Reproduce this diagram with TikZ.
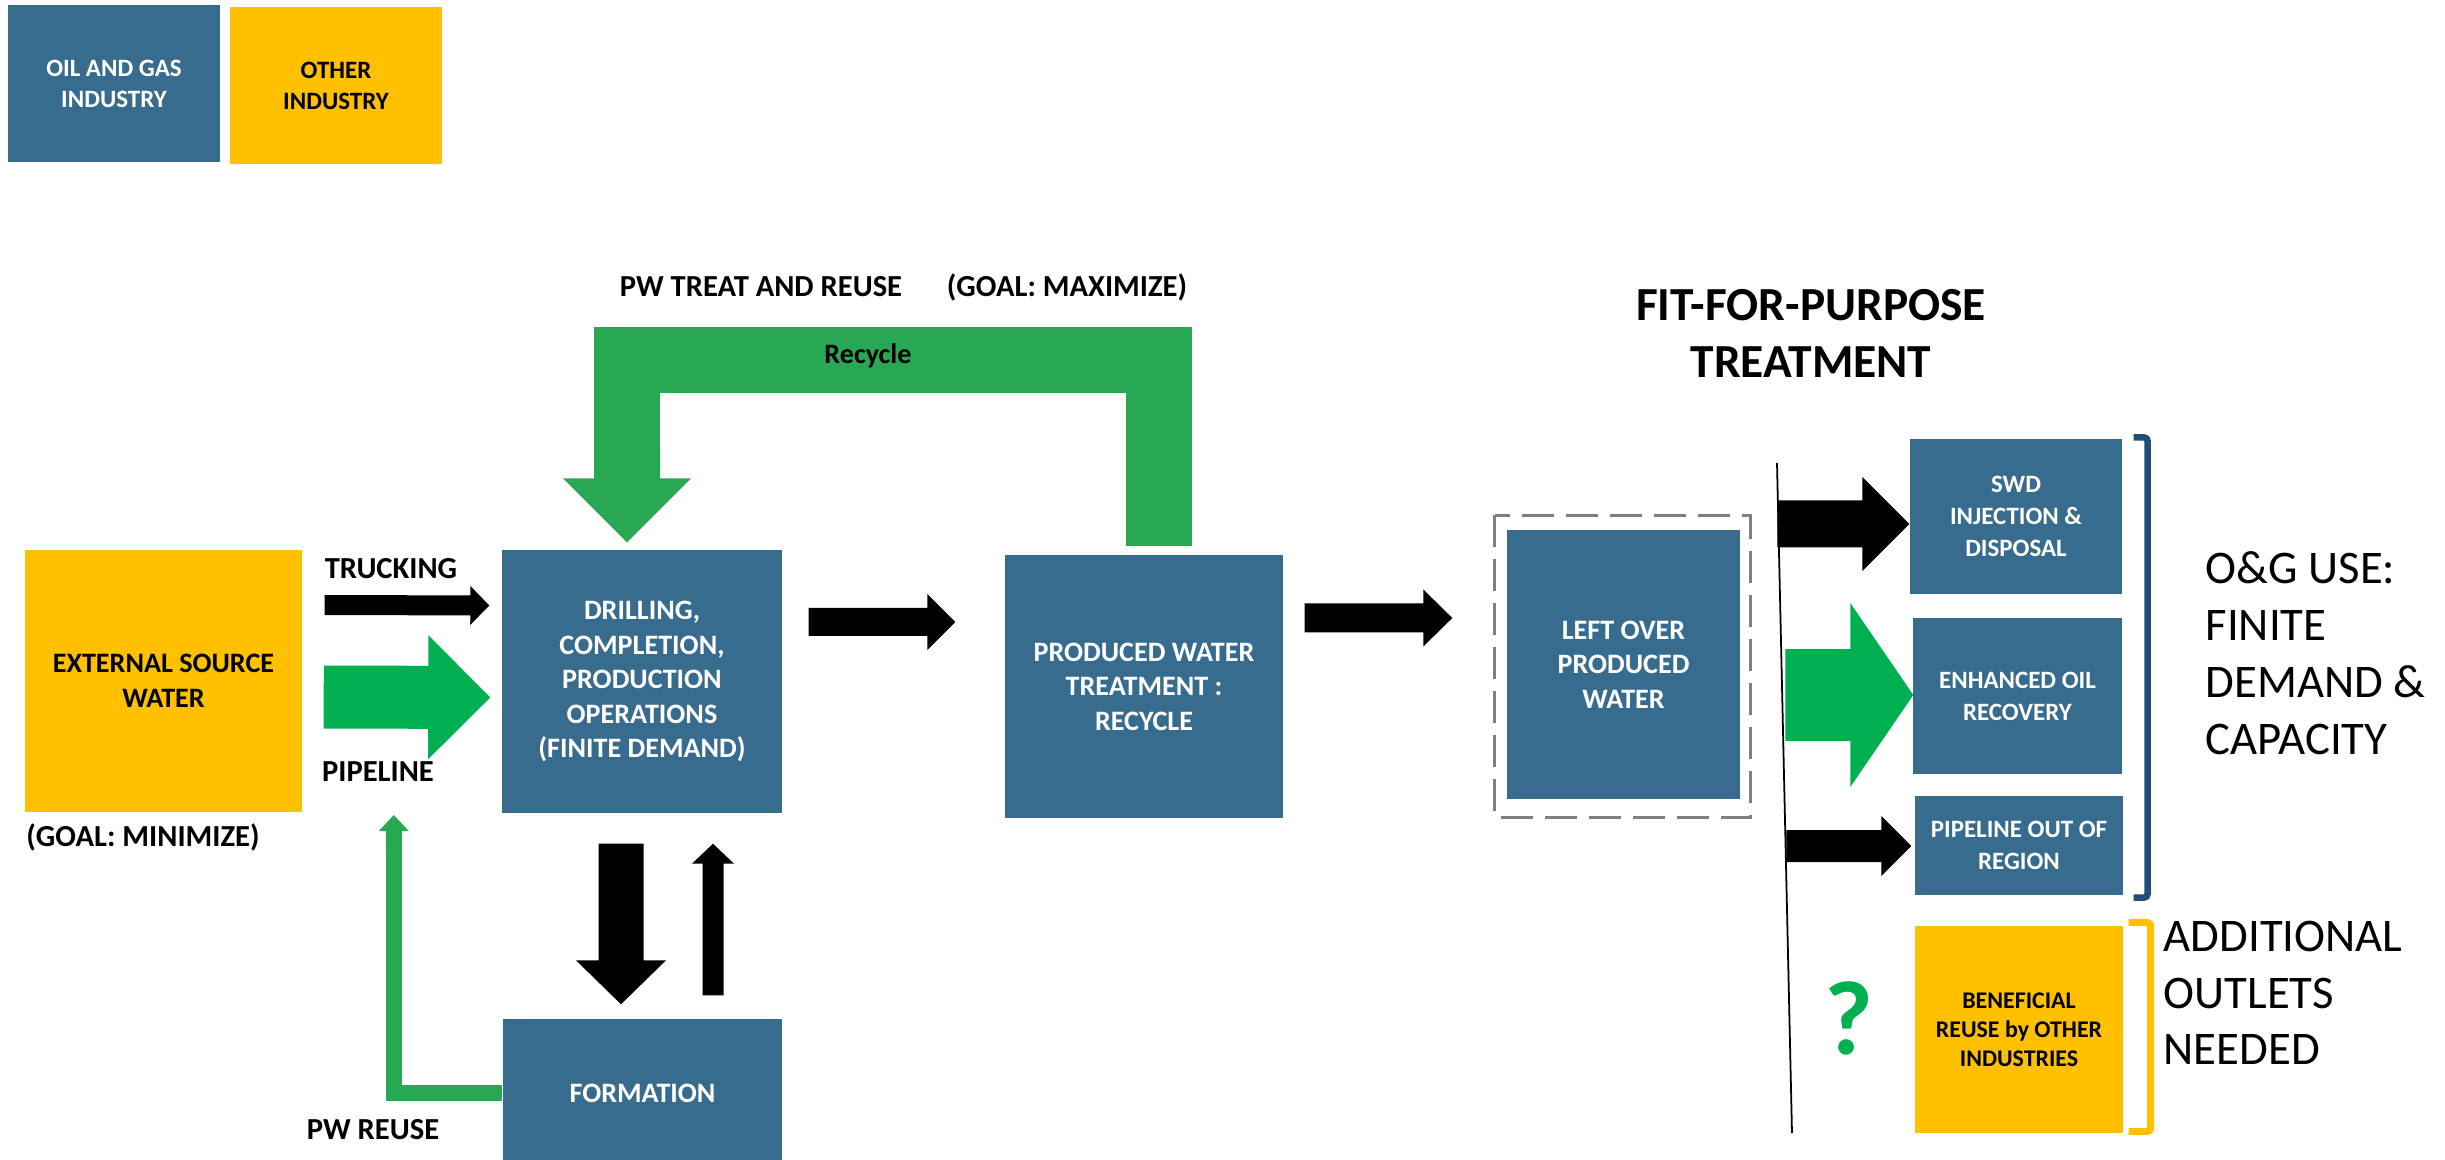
\documentclass[tikz,border=0pt]{standalone}
\usepackage{fontspec}
\setmainfont{Carlito}
\usepackage{tikz}
\usetikzlibrary{calc,positioning}
\definecolor{ogblue}{RGB}{55,108,142}
\definecolor{othyellow}{RGB}{255,192,0}
\definecolor{pipegreen}{RGB}{0,176,80}
\definecolor{loopgreen}{RGB}{40,168,82}
\definecolor{brktblue}{RGB}{31,78,121}
\tikzset{
  og/.style={fill=ogblue, text=white, align=center, inner sep=0pt, font=\bfseries\fontsize{8}{9.8}\selectfont},
  oth/.style={og, fill=othyellow, text=black},
  wh/.style 2 args={minimum width=#1*0.1mm, minimum height=#2*0.1mm},
  smalltxt/.style={font=\bfseries\fontsize{7.1}{9.1}\selectfont},
  lbl/.style={inner sep=0pt, font=\bfseries\fontsize{8.7}{10.5}\selectfont},
  bigtxt/.style={inner sep=0pt, align=left, anchor=west, font=\fontsize{13.3}{16.2}\selectfont},
  dashbox/.style={draw=gray, line width=0.33mm, dash pattern=on 3.2mm off 1.2mm},
  loopline/.style={draw=loopgreen, line join=miter}
}
% block arrow: [colour]{from}{to}{shaft}{head}{head length}
\newcommand{\blockarrow}[6][black]{%
  \fill[#1] let \p1=(#2), \p2=(#3), \n1={atan2(\y2-\y1,\x2-\x1)}, \n2={veclen(\x2-\x1,\y2-\y1)} in
    [shift={(\p1)}, rotate=\n1]
    (0pt,-#4/2) -- (\n2-#6,-#4/2) -- (\n2-#6,-#5/2) -- (\n2+0pt,0pt)
    -- (\n2-#6,#5/2) -- (\n2-#6,#4/2) -- (0pt,#4/2) -- cycle;}

\begin{document}
\begin{tikzpicture}[x=0.1mm, y=-0.1mm]
\useasboundingbox (0,0) rectangle (2445,1160);

% legend
\node[og, wh={212}{157}, font=\bfseries\fontsize{7.1}{8.8}\selectfont] (legog) at (114,83.5) {OIL AND GAS\\INDUSTRY};
\node[oth, wh={212}{157}, font=\bfseries\fontsize{7.1}{8.8}\selectfont] (legoth) at (336,85.5) {OTHER\\INDUSTRY};

% boxes
\node[oth, wh={277}{262}] (ext) at (163.5,681) {EXTERNAL SOURCE\\WATER};
\node[og, wh={280}{263}] (drill) at (642,681.5) {DRILLING,\\COMPLETION,\\PRODUCTION\\OPERATIONS\\(FINITE DEMAND)};
\node[og, wh={278}{263}] (pwt) at (1144,686.5) {PRODUCED WATER\\TREATMENT :\\RECYCLE};
\node[og, wh={279}{148}] (form) at (642.5,1093) {FORMATION};
\node[og, wh={233}{269}] (left) at (1623.5,664.5) {LEFT OVER\\PRODUCED\\WATER};
\draw[dashbox] ($(left.north west)+(-11.5,-14)$) rectangle ($(left.south east)+(10,17.5)$);

\node[og, smalltxt, wh={212}{155}] (swd) at (2016,516.5) {SWD\\INJECTION \&\\DISPOSAL};
\node[og, smalltxt, wh={209}{156}] (eor) at (2017.5,696) {ENHANCED OIL\\RECOVERY};
\node[og, smalltxt, wh={208}{99}] (pipe) at (2019,845.5) {PIPELINE OUT OF\\REGION};
\node[oth, wh={208}{207}, font=\bfseries\fontsize{6.8}{8.3}\selectfont] (benef) at (2019,1029.5) {BENEFICIAL\\REUSE by OTHER\\INDUSTRIES};

% labels
\node[lbl] (truck) at (391,569) {TRUCKING};
\node[lbl] (pipel) at (378,772) {PIPELINE};
\node[lbl] (gmin) at (143,837) {(GOAL: MINIMIZE)};
\node[lbl] (ptr) at (761,287) {PW TREAT AND REUSE};
\node[lbl] (gmax) at (1067,287) {(GOAL: MAXIMIZE)};
\node[lbl] (pwre) at (373,1130) {PW REUSE};
\node[inner sep=0pt, align=center, font=\bfseries\fontsize{13.5}{16.2}\selectfont] (ffp) at (1811,333) {FIT-FOR-PURPOSE\\TREATMENT};
\node[bigtxt] (oguse) at (2205,653) {O\&G USE:\\FINITE\\DEMAND \&\\CAPACITY};
\node[bigtxt, font=\fontsize{13.3}{16.1}\selectfont] (addl) at (2163,993) {ADDITIONAL\\OUTLETS\\NEEDED};
\node[inner sep=0pt, text=pipegreen, font=\bfseries\fontsize{30}{36}\selectfont] (qmark) at (1849,1018) {?};

% flows
\blockarrow{$(ext.east)+(22,-76)$}{$(drill.west)+(-12,-76)$}{2.0mm}{3.9mm}{1.9mm}
\blockarrow[pipegreen]{$(ext.east)+(21,16)$}{$(drill.west)+(-11,16)$}{6.3mm}{12.4mm}{6.2mm}
\blockarrow{$(drill.east)+(26,-59.5)$}{$(pwt.west)+(-49,-64.5)$}{2.8mm}{5.6mm}{2.8mm}
\blockarrow{$(pwt.east)+(21,-68.5)$}{$(left.west)+(-54,-46.5)$}{2.9mm}{5.7mm}{2.9mm}
\blockarrow{$(drill.south)+(-21,30)$}{$(form.north)+(-21.5,-14)$}{4.5mm}{9.0mm}{4.4mm}
\blockarrow{$(form.north)+(70.5,-23)$}{$(drill.south)+(71,30)$}{2.1mm}{4.2mm}{2.0mm}

% recycle loop
\draw[loopline, line width=6.6mm] ($(pwt.north)+(15,-8)$) |- ($(drill.north)+(-15,-189.5)$) -- ++(0,120);
\blockarrow[loopgreen]{$(drill.north)+(-15,-100)$}{$(drill.north)+(-15,-7)$}{6.6mm}{12.8mm}{6.4mm}
\node[lbl, font=\bfseries\fontsize{8}{9.8}\selectfont] (recyc) at (868,356) {Recycle};

% pw reuse
\draw[loopline, line width=1.6mm] (form.west) -| ($(form.west)+(-108.5,-250)$);
\blockarrow[loopgreen]{$(form.west)+(-108.5,-240)$}{$(form.west)+(-108.5,-278)$}{1.6mm}{3.0mm}{1.6mm}

% outlets
\coordinate (divtop) at (1777,463);
\coordinate (divbot) at (1792,1133);
\draw[line width=0.5pt] (divtop) -- (divbot);
\blockarrow{$(swd.west)+(-132,7.5)$}{$(swd.west)+(0,7.5)$}{4.7mm}{9.4mm}{4.7mm}
\blockarrow[pipegreen]{$(eor.west)+(-127,-1)$}{$(eor.west)+(1,-1)$}{9.2mm}{18.4mm}{6.3mm}
\blockarrow{$(pipe.west)+(-128,0.5)$}{$(pipe.west)+(-3,0.5)$}{3.2mm}{6.0mm}{3.0mm}

% brackets
\draw[brktblue, line width=0.65mm, rounded corners=0.4mm] ($(swd.north east)+(11,-1)$) -- ++(14,0) |- ($(pipe.south east)+(10,2)$);
\draw[othyellow, line width=0.7mm, rounded corners=0.4mm] ($(benef.north east)+(5,-3)$) -- ++(22,0) |- ($(benef.south east)+(5,-2)$);
\end{tikzpicture}
\end{document}
